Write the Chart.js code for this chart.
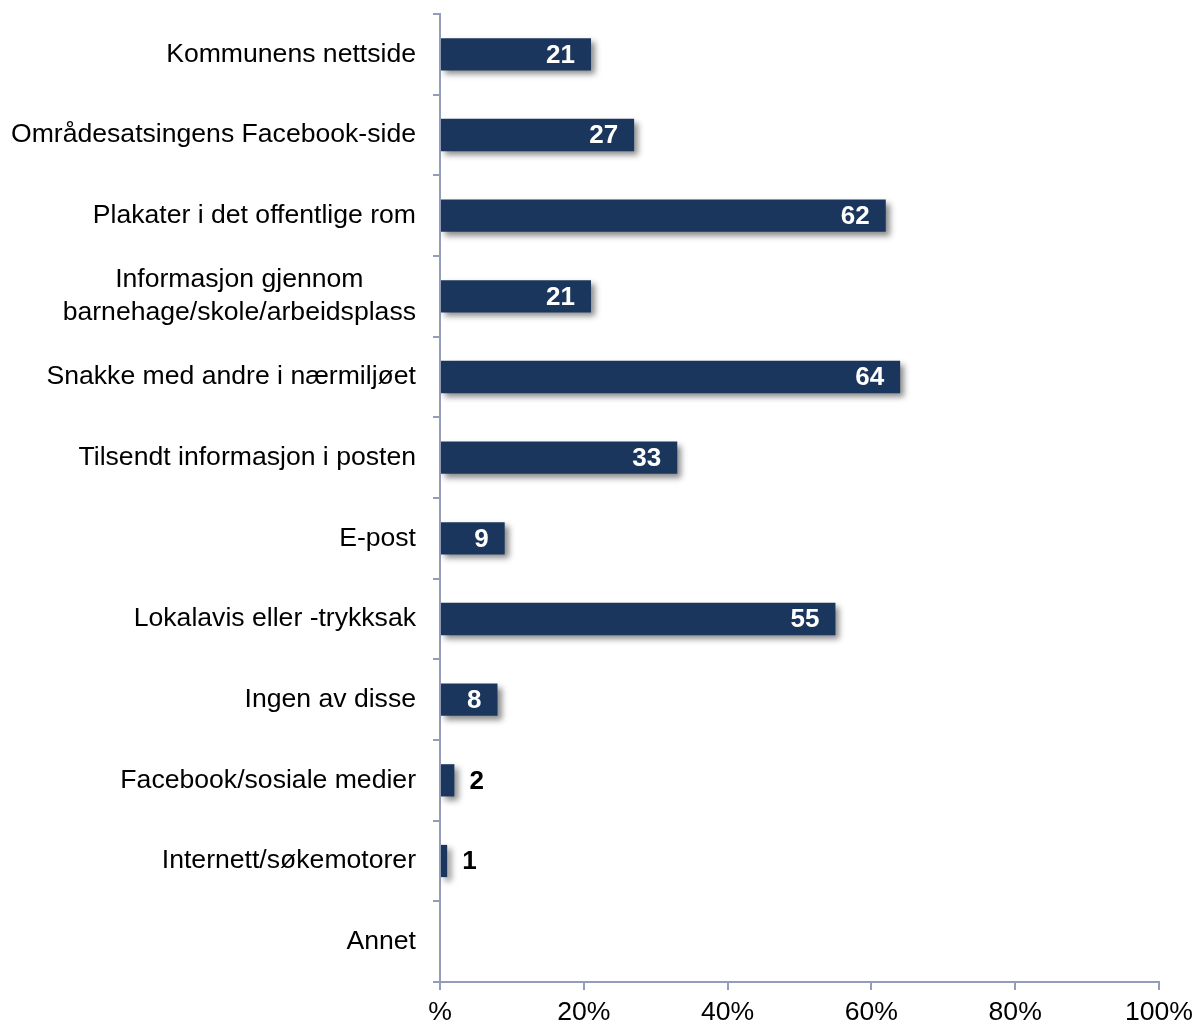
<!DOCTYPE html>
<html>
<head>
<meta charset="utf-8">
<script src="https://cdn.jsdelivr.net/npm/chart.js@4"></script>
<style>
  html, body { margin: 0; padding: 0; background: #fff; }
  #wrap { width: 1200px; height: 1026px; }
</style>
</head>
<body>
<div id="wrap"><canvas id="chart" width="1200" height="1026"></canvas></div>
<script>
// data
const categories = [
  'Kommunens nettside',
  'Områdesatsingens Facebook-side',
  'Plakater i det offentlige rom',
  ['Informasjon gjennom', 'barnehage/skole/arbeidsplass'],
  'Snakke med andre i nærmiljøet',
  'Tilsendt informasjon i posten',
  'E-post',
  'Lokalavis eller -trykksak',
  'Ingen av disse',
  'Facebook/sosiale medier',
  'Internett/søkemotorer',
  'Annet'
];
const values = [21, 27, 62, 21, 64, 33, 9, 55, 8, 2, 1, 0];
const xTicks = [0, 20, 40, 60, 80, 100];

const axisColor = '#939cba';
const barColor = '#1b365d';
const fontFamily = '"Liberation Sans", Arial, sans-serif';

// drop shadow under bars
const shadowPlugin = {
  id: 'barShadow',
  beforeDatasetsDraw(chart) {
    const ctx = chart.ctx;
    ctx.save();
    ctx.shadowColor = 'rgba(0,0,0,0.45)';
    ctx.shadowBlur = 6;
    ctx.shadowOffsetX = 4;
    ctx.shadowOffsetY = 4;
  },
  afterDatasetsDraw(chart) {
    chart.ctx.restore();
  }
};

// category labels, multi-line ones centred on their widest line
const yLabelPlugin = {
  id: 'yLabels',
  afterDraw(chart) {
    const ctx = chart.ctx;
    const y = chart.scales.y;
    const right = y.right - 24;
    const lineH = 33;
    ctx.save();
    ctx.font = '26.6px ' + fontFamily;
    ctx.fillStyle = '#000';
    ctx.textBaseline = 'middle';
    categories.forEach((lab, i) => {
      const cy = y.getPixelForValue(i);
      const lines = Array.isArray(lab) ? lab : [lab];
      const widths = lines.map(l => ctx.measureText(l).width);
      const maxW = Math.max(...widths);
      const cx = right - maxW / 2;
      ctx.textAlign = 'center';
      lines.forEach((l, j) => {
        const ly = cy + (j - (lines.length - 1) / 2) * lineH;
        ctx.fillText(l, cx, ly);
      });
    });
    ctx.restore();
  }
};

// value labels: white inside the bar, black outside for short bars
const valuePlugin = {
  id: 'valueLabels',
  afterDatasetsDraw(chart) {
    const ctx = chart.ctx;
    const meta = chart.getDatasetMeta(0);
    ctx.save();
    ctx.font = 'bold 26px ' + fontFamily;
    ctx.textBaseline = 'middle';
    meta.data.forEach((bar, i) => {
      const v = values[i];
      if (!v) return;
      if (v >= 5) {
        ctx.fillStyle = '#fff';
        ctx.textAlign = 'right';
        ctx.fillText(String(v), bar.x - 16, bar.y + 1);
      } else {
        ctx.fillStyle = '#000';
        ctx.textAlign = 'left';
        ctx.fillText(String(v), bar.x + 15, bar.y + 1);
      }
    });
    ctx.restore();
  }
};

new Chart(document.getElementById('chart'), {
  type: 'bar',
  data: {
    labels: categories,
    datasets: [{
      data: values,
      backgroundColor: barColor,
      borderWidth: 0,
      barPercentage: 0.4,
      categoryPercentage: 1
    }]
  },
  options: {
    indexAxis: 'y',
    responsive: false,
    animation: false,
    layout: { padding: { top: 14, right: 40, left: 0, bottom: 0 } },
    plugins: {
      legend: { display: false },
      tooltip: { enabled: false }
    },
    scales: {
      x: {
        min: 0,
        max: 100,
        afterFit(scale) { scale.height = 44; },
        afterBuildTicks(scale) { scale.ticks = xTicks.map(v => ({ value: v })); },
        ticks: {
          autoSkip: false,
          maxRotation: 0,
          padding: 7,
          color: '#000',
          font: { size: 26.6, family: fontFamily },
          callback: v => v === 0 ? '%' : v + '%'
        },
        grid: {
          drawOnChartArea: false,
          drawTicks: true,
          tickLength: 8,
          color: axisColor,
          lineWidth: 2
        },
        border: { display: true, color: axisColor, width: 2 }
      },
      y: {
        afterFit(scale) { scale.width = 440; },
        ticks: { display: false },
        grid: {
          offset: true,
          drawOnChartArea: false,
          drawTicks: true,
          tickLength: 7,
          color: axisColor,
          lineWidth: 2
        },
        border: { display: true, color: axisColor, width: 2 }
      }
    }
  },
  plugins: [shadowPlugin, valuePlugin, yLabelPlugin]
});
</script>
</body>
</html>
